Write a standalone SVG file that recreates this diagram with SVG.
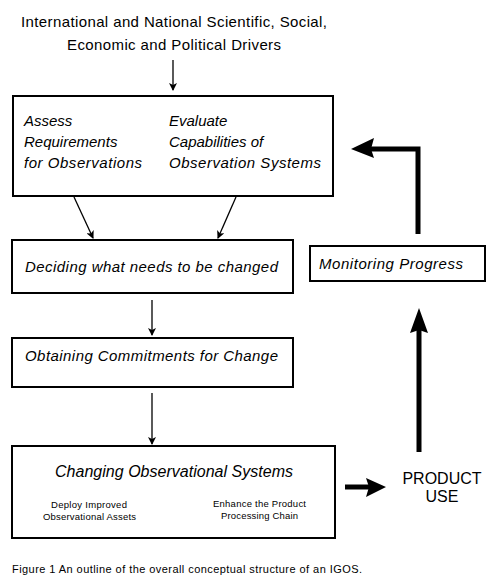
<svg xmlns="http://www.w3.org/2000/svg" width="497" height="588" viewBox="0 0 497 588">
<style>
text{font-family:"Liberation Sans",Arial,sans-serif;fill:#000}
.box{fill:#fff;stroke:#000;stroke-width:2}
.it{font-style:italic;font-size:15px}
.sub{font-size:9.5px}
.thin{stroke:#000;stroke-width:1.3;fill:none}
.thick{stroke:#000;stroke-width:5;fill:none}
.head{fill:#000}
</style>
<defs>
<marker id="ah" markerWidth="8" markerHeight="8" refX="7" refY="4" orient="auto" markerUnits="userSpaceOnUse">
<path d="M0,0 L8,4 L0,8 L2,4 Z" fill="#000"/>
</marker>
</defs>
<rect width="497" height="588" fill="#fff"/>
<g id="drivers">
<text x="21" y="27" font-size="15" textLength="306" lengthAdjust="spacing">International and National Scientific, Social,</text>
<text x="67" y="50" font-size="15" textLength="214" lengthAdjust="spacing">Economic and Political Drivers</text>
</g>
<g id="assess">
<rect class="box" x="13" y="96" width="320" height="100"/>
<text class="it" x="24" y="126">Assess</text>
<text class="it" x="24" y="147">Requirements</text>
<text class="it" x="24" y="168" textLength="118" lengthAdjust="spacing">for Observations</text>
<text class="it" x="169" y="126">Evaluate</text>
<text class="it" x="169" y="147">Capabilities of</text>
<text class="it" x="169" y="168" textLength="152" lengthAdjust="spacing">Observation Systems</text>
</g>
<g id="deciding">
<rect class="box" x="12" y="240" width="281" height="53"/>
<text class="it" x="25" y="272" textLength="253" lengthAdjust="spacing">Deciding what needs to be changed</text>
</g>
<g id="obtaining">
<rect class="box" x="12" y="338" width="281" height="49"/>
<text class="it" x="25" y="361" textLength="253" lengthAdjust="spacing">Obtaining Commitments for Change</text>
</g>
<g id="changing">
<rect class="box" x="12" y="446" width="323" height="92"/>
<text class="it" x="55" y="477" style="font-size:16px" textLength="238" lengthAdjust="spacing">Changing Observational Systems</text>
<text class="sub" x="51" y="508" textLength="76" lengthAdjust="spacing">Deploy Improved</text>
<text class="sub" x="43" y="520" textLength="93" lengthAdjust="spacing">Observational Assets</text>
<text class="sub" x="213" y="507" textLength="93" lengthAdjust="spacing">Enhance the Product</text>
<text class="sub" x="221" y="519" textLength="77" lengthAdjust="spacing">Processing Chain</text>
</g>
<g id="monitoring">
<rect class="box" x="310" y="246" width="175" height="35"/>
<text class="it" x="319" y="269" textLength="144" lengthAdjust="spacing">Monitoring Progress</text>
</g>
<g id="product-use">
<text x="442" y="484" font-size="16" text-anchor="middle">PRODUCT</text>
<text x="442" y="502" font-size="16" text-anchor="middle">USE</text>
</g>
<g id="connectors">
<line class="thin" x1="173" y1="60" x2="173" y2="90" marker-end="url(#ah)"/>
<line class="thin" x1="74" y1="197" x2="93" y2="238" marker-end="url(#ah)"/>
<line class="thin" x1="236" y1="197" x2="218" y2="238" marker-end="url(#ah)"/>
<line class="thin" x1="152" y1="300" x2="152" y2="335" marker-end="url(#ah)"/>
<line class="thin" x1="152" y1="393" x2="152" y2="444" marker-end="url(#ah)"/>
<line class="thick" x1="345" y1="487" x2="370" y2="487"/>
<path class="head" d="M386,487 L366,478 L369,487 L366,497 Z"/>
<line class="thick" x1="419" y1="452" x2="419" y2="328"/>
<path class="head" d="M419,308 L410,333 L419,330 L428,333 Z"/>
<polyline class="thick" points="418,234 418,149 368,149" style="stroke-linejoin:miter"/>
<path class="head" d="M351,149 L374,138 L371,149 L374,158 Z"/>
</g>
<g id="caption">
<text x="12" y="573" font-size="11" textLength="350" lengthAdjust="spacing">Figure 1 An outline of the overall conceptual structure of an IGOS.</text>
</g>
</svg>
